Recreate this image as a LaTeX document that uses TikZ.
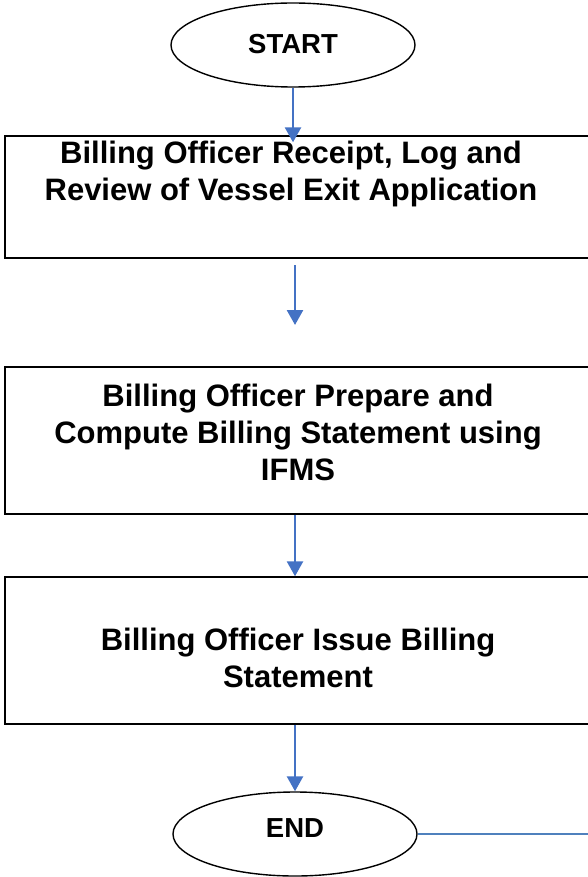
\documentclass[tikz,border=0pt]{standalone}
\definecolor{flowblue}{RGB}{68,114,196}
\definecolor{lineblue}{RGB}{79,129,189}
\usepackage{fontspec}
\setmainfont{Liberation Sans}
\usepackage{tikz}
\usetikzlibrary{shapes.geometric,arrows.meta}

\begin{document}
\begin{tikzpicture}[x=1pt,y=-1pt]

%
% Styles
%
\tikzstyle{terminal} = [ellipse,draw=black,line width=1.4pt,minimum width=244pt,minimum height=84pt,inner sep=0pt,font=\fontsize{27.5}{31}\selectfont\bfseries]
\tikzstyle{stepbox}  = [rectangle,draw=black,line width=1.4pt,minimum width=590pt,inner sep=0pt]
\tikzstyle{label}    = [align=center,font=\fontsize{31}{37}\selectfont\bfseries]
\tikzstyle{edge}     = [-{Triangle[width=16pt,length=15pt]},line width=2.6pt,draw=flowblue]
\tikzstyle{exitline} = [line width=2.4pt,draw=lineblue]

\useasboundingbox (0,0) rectangle (587,877);

\node[terminal] (start) at (293,45) {\raisebox{2pt}{START}};

\node[stepbox,minimum height=122pt] (b1) at (300,197) {};
\node[label] (t1) at (291,174) {Billing Officer Receipt, Log and\\Review of Vessel Exit Application};

\coordinate (f1) at (295,265);
\coordinate (f2) at (295,325);

\node[stepbox,minimum height=147pt] (b2) at (300,440.5) {};
\node[label] (t2) at (298,432) {Billing Officer Prepare and\\Compute Billing Statement using\\IFMS};

\node[stepbox,minimum height=147pt] (b3) at (300,650.5) {};
\node[label] (t3) at (298,658) {Billing Officer Issue Billing\\Statement};

\node[terminal] (end) at (295,834) {\raisebox{11pt}{END}};
\coordinate (exit) at (600,834);

\draw[edge,shorten >=-7pt] (start) -- (start |- b1.north);
\draw[edge] (f1) -- (f2);
\draw[edge] (f1 |- b2.south) -- (f1 |- b3.north);
\draw[edge] (end |- b3.south) -- (end);
\draw[exitline] (end) -- (exit);

\end{tikzpicture}
\end{document}
